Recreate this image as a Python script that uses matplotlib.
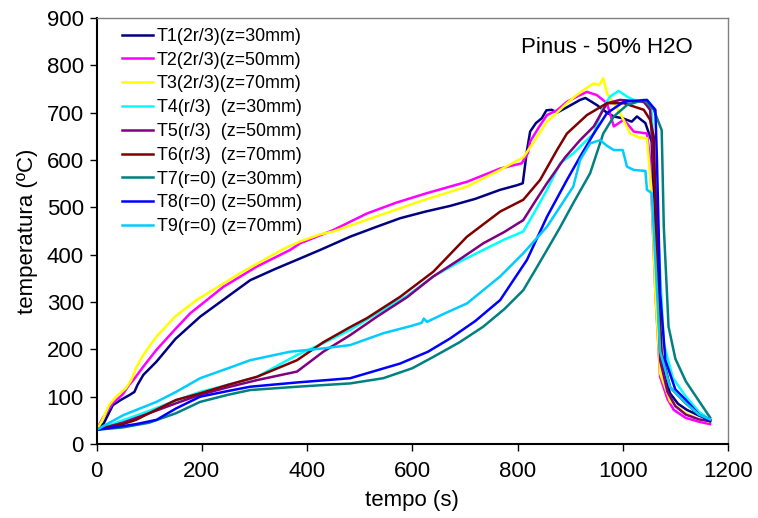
import matplotlib
matplotlib.use("Agg")
import matplotlib.pyplot as plt

plt.rcParams['font.family'] = ['Liberation Sans', 'DejaVu Sans']

# ---- data ----
labels = ["T1(2r/3)(z=30mm)", "T2(2r/3)(z=50mm)", "T3(2r/3)(z=70mm)",
          "T4(r/3)  (z=30mm)", "T5(r/3)  (z=50mm)", "T6(r/3)  (z=70mm)",
          "T7(r=0) (z=30mm)", "T8(r=0) (z=50mm)", "T9(r=0) (z=70mm)"]
colors = ["#000080", "#FF00FF", "#FFFF00", "#00FFFF", "#800080",
          "#800000", "#008080", "#0000FF", "#00CCFF"]

t1 = [0, 14, 31, 46, 62, 72, 78, 89, 114, 150, 197, 250, 292, 340, 387, 425, 482, 530, 577, 625, 672, 720, 767, 800, 810,
      818, 824, 835, 846, 855, 865, 875, 895, 919, 929, 951, 970, 983, 1000, 1017, 1027, 1043, 1055, 1062, 1071, 1080,
      1090, 1105, 1122, 1145, 1166]
T1 = [30, 44, 82, 93, 103, 110, 125, 146, 174, 222, 269, 312, 346, 370, 392, 410, 438, 458, 477, 491, 503, 518, 537, 547, 551,
      620, 660, 678, 688, 705, 706, 700, 712, 727, 731, 716, 700, 692, 688, 681, 692, 678, 639, 389, 192, 140,
      107, 85, 72, 60, 51]

t2 = [0, 12, 30, 50, 62, 70, 90, 114, 150, 178, 241, 305, 368, 387, 450, 514, 570, 628, 704, 767, 808, 820, 824, 840, 856,
      875, 894, 915, 932, 951, 970, 983, 1002, 1021, 1046, 1052, 1062, 1071, 1085, 1097, 1120, 1145, 1166]
T2 = [30, 55, 85, 105, 125, 135, 165, 199, 243, 276, 332, 375, 410, 424, 452, 487, 510, 530, 554, 582, 593, 615, 639, 668, 695,
      705, 723, 735, 744, 737, 720, 671, 685, 660, 656, 600, 319, 142, 95, 72, 55, 47, 42]

t3 = [0, 8, 24, 37, 56, 66, 76, 90, 114, 150, 190, 273, 355, 387, 425, 450, 530, 621, 704, 767, 808, 812, 835, 856, 875,
      894, 910, 926, 935, 945, 955, 963, 970, 983, 995, 1014, 1030, 1046, 1055, 1062, 1071, 1090, 1120, 1145, 1166]
T3 = [30, 44, 82, 100, 118, 135, 163, 190, 227, 270, 304, 361, 412, 428, 443, 449, 480, 515, 544, 579, 604, 607, 645, 681, 700,
      720, 735, 748, 755, 762, 758, 773, 741, 720, 699, 656, 648, 646, 530, 319, 150, 90, 65, 52, 47]

t4 = [0, 50, 100, 151, 197, 250, 305, 381, 431, 482, 533, 590, 640, 690, 735, 775, 811, 835, 856, 881, 906, 925, 945, 963,
      976, 992, 1008, 1021, 1046, 1055, 1065, 1078, 1095, 1120, 1145, 1166]
T4 = [30, 50, 70, 92, 110, 125, 142, 188, 213, 241, 276, 313, 354, 385, 410, 432, 449, 495, 537, 593, 614, 635, 656, 713,
      734, 746, 734, 727, 720, 700, 494, 213, 140, 100, 68, 51]

t5 = [0, 50, 100, 151, 197, 250, 305, 381, 431, 482, 533, 590, 640, 690, 735, 775, 811, 835, 856, 890, 919, 945, 970, 995,
      1040, 1052, 1062, 1071, 1085, 1100, 1120, 1145, 1166]
T5 = [30, 45, 65, 86, 104, 120, 135, 153, 195, 230, 269, 310, 354, 390, 424, 448, 473, 515, 551, 605, 642, 671, 720, 727,
      723, 706, 530, 177, 110, 80, 62, 52, 48]

t6 = [0, 50, 75, 100, 151, 197, 250, 305, 381, 431, 482, 514, 577, 640, 704, 767, 811, 843, 875, 894, 932, 970, 1002, 1040,
      1052, 1059, 1065, 1074, 1090, 1120, 1145, 1166]
T6 = [30, 42, 51, 65, 93, 107, 125, 142, 177, 215, 247, 266, 311, 364, 438, 491, 516, 558, 621, 656, 695, 720, 720, 706,
      685, 649, 389, 192, 120, 86, 62, 51]

t7 = [0, 50, 100, 151, 197, 250, 292, 381, 482, 545, 600, 640, 690, 735, 775, 811, 835, 856, 880, 906, 938, 963, 983, 1008,
      1040, 1059, 1074, 1078, 1087, 1100, 1120, 1152, 1166]
T7 = [30, 35, 45, 65, 89, 104, 114, 121, 128, 139, 160, 184, 215, 248, 285, 325, 370, 410, 456, 509, 572, 656, 692, 716,
      727, 706, 663, 459, 248, 180, 132, 79, 56]

t8 = [0, 51, 75, 114, 151, 197, 250, 292, 381, 482, 577, 630, 672, 720, 767, 818, 856, 894, 919, 945, 970, 1002, 1046, 1062,
      1065, 1071, 1081, 1100, 1120, 1145, 1166]
T8 = [30, 38, 42, 51, 75, 100, 112, 121, 130, 139, 170, 195, 223, 260, 304, 389, 480, 558, 607, 656, 699, 723, 727, 706,
      600, 319, 177, 115, 93, 62, 48]

t9 = [0, 51, 114, 151, 197, 250, 292, 368, 431, 482, 545, 600, 618, 622, 628, 660, 704, 767, 811, 856, 906, 919, 938, 957,
      970, 983, 1000, 1008, 1021, 1043, 1046, 1055, 1062, 1071, 1090, 1120, 1145, 1166]
T9 = [30, 61, 89, 110, 139, 160, 177, 195, 202, 209, 234, 250, 256, 265, 258, 275, 297, 354, 403, 459, 544, 600, 635, 642,
      630, 621, 621, 586, 579, 577, 537, 530, 389, 196, 120, 86, 62, 52]

series_t = [t1, t2, t3, t4, t5, t6, t7, t8, t9]
series_T = [T1, T2, T3, T4, T5, T6, T7, T8, T9]

x_ticks = [0, 200, 400, 600, 800, 1000, 1200]
y_ticks = [0, 100, 200, 300, 400, 500, 600, 700, 800, 900]

# ---- figure ----
fig = plt.figure(figsize=(7.58, 5.18), dpi=100)
ax = fig.add_axes([96.5 / 758, 1 - 444 / 518, 631.5 / 758, 426 / 518])

for tt, TT, c, lab in zip(series_t, series_T, colors, labels):
    ax.plot(tt, TT, color=c, lw=1.8, label=lab, solid_joinstyle='round')

ax.set_xlim(0, 1200)
ax.set_ylim(0, 900)
ax.set_xticks(x_ticks)
ax.set_yticks(y_ticks)
ax.tick_params(axis='both', direction='out', length=5, width=1, labelsize=16, colors='black', pad=4)
ax.tick_params(axis='x', pad=7)

for s in ['left', 'bottom']:
    ax.spines[s].set_color('black')
    ax.spines[s].set_linewidth(1.5)
for s in ['top', 'right']:
    ax.spines[s].set_color('#808080')
    ax.spines[s].set_linewidth(1)

ax.set_xlabel("tempo (s)", fontsize=16, labelpad=6)
ax.set_ylabel("temperatura (ºC)", fontsize=16, labelpad=6)

ax.text(0.672, 0.917, "Pinus - 50% H2O", transform=ax.transAxes, fontsize=16,
        ha='left', va='baseline')

leg = ax.legend(loc='upper left', bbox_to_anchor=(0.04, 0.977), frameon=False,
                fontsize=12.9, handlelength=1.75, handletextpad=0.2,
                labelspacing=0.38, borderpad=0, borderaxespad=0)

fig.savefig("out.png", dpi=100)
